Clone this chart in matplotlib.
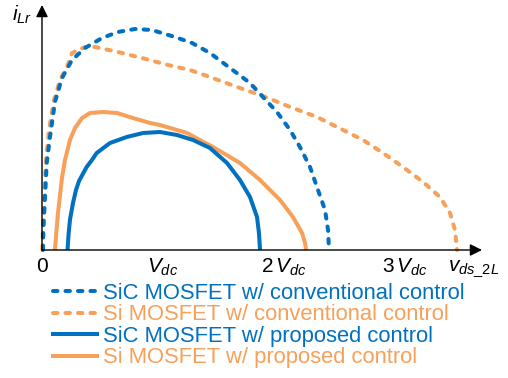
import numpy as np
import matplotlib
matplotlib.use("Agg")
import matplotlib.pyplot as plt
from matplotlib.lines import Line2D

plt.rcParams['font.family'] = ['Liberation Sans', 'DejaVu Sans']
plt.rcParams['mathtext.fontset'] = 'custom'
plt.rcParams['mathtext.rm'] = 'Liberation Sans'
plt.rcParams['mathtext.it'] = 'Liberation Sans:italic'

BLUE = '#0070C0'
ORANGE = '#F7A05A'

# x in units of Vdc, y = i_Lr (arbitrary units)
sic_conv_x = [0.008, 0.011, 0.025, 0.039, 0.066, 0.107, 0.165, 0.248, 0.355, 0.496, 0.628, 0.769,
              0.909, 1.099, 1.240, 1.388, 1.554, 1.719, 1.826, 1.942, 2.050, 2.132, 2.215, 2.281,
              2.339, 2.364, 2.372]
sic_conv_y = [0.0, 0.20, 0.53, 0.87, 1.13, 1.48, 1.72, 1.90, 2.02, 2.12, 2.18, 2.21,
              2.20, 2.13, 2.07, 1.97, 1.82, 1.67, 1.53, 1.38, 1.20, 1.03, 0.83, 0.60,
              0.40, 0.20, 0.0]

si_conv_x = [0.004, 0.008, 0.021, 0.033, 0.058, 0.099, 0.149, 0.207, 0.248, 0.355, 0.438, 0.628,
             0.826, 1.041, 1.223, 1.388, 1.612, 1.826, 2.050, 2.273, 2.488, 2.653, 2.818, 2.983,
             3.149, 3.289, 3.372, 3.413, 3.430]
si_conv_y = [0.0, 0.30, 0.60, 0.90, 1.20, 1.50, 1.70, 1.83, 1.97, 2.03, 2.03, 1.98,
             1.92, 1.85, 1.80, 1.73, 1.63, 1.54, 1.43, 1.33, 1.20, 1.10, 0.97, 0.83,
             0.68, 0.53, 0.37, 0.20, 0.0]

sic_prop_x = [0.211, 0.219, 0.231, 0.256, 0.281, 0.306, 0.369, 0.413, 0.452, 0.562, 0.700,
              0.835, 0.975, 1.116, 1.248, 1.388, 1.529, 1.636, 1.719, 1.777, 1.793, 1.802]
sic_prop_y = [0.0, 0.15, 0.30, 0.47, 0.60, 0.69, 0.83, 0.90, 0.97, 1.07, 1.13,
              1.17, 1.18, 1.15, 1.10, 1.02, 0.87, 0.70, 0.53, 0.33, 0.17, 0.0]

si_prop_x = [0.107, 0.120, 0.132, 0.149, 0.165, 0.190, 0.231, 0.273, 0.331, 0.397, 0.504,
             0.620, 0.752, 0.893, 0.975, 1.198, 1.413, 1.636, 1.802, 1.967, 2.074, 2.149,
             2.174, 2.182]
si_prop_y = [0.0, 0.20, 0.37, 0.55, 0.72, 0.90, 1.10, 1.22, 1.32, 1.37, 1.38,
             1.37, 1.32, 1.27, 1.25, 1.17, 1.03, 0.87, 0.70, 0.50, 0.33, 0.17,
             0.07, 0.0]

tick_pos = [0, 1, 2, 3]
tick_labels = ['0', r'$V_{dc}$', r'$2\,V_{dc}$', r'$3\,V_{dc}$']

labels = ['SiC MOSFET w/ conventional control',
          'Si MOSFET w/ conventional control',
          'SiC MOSFET w/ proposed control',
          'Si MOSFET w/ proposed control']

W, H = 508, 378
fig = plt.figure(figsize=(W / 100, H / 100), dpi=100)
x0, y0, x1, y1 = 42, 250, 482, 5
ax = fig.add_axes([x0 / W, 1 - y0 / H, (x1 - x0) / W, (y0 - y1) / H])
xmax = (x1 - x0) / 121
ymax = (y0 - y1) / 100
ax.set_xlim(0, xmax)
ax.set_ylim(0, ymax)
for s in ax.spines.values():
    s.set_visible(False)

lw = 2.9
dash = (1.1, 2.0)
l1, = ax.plot(sic_conv_x, sic_conv_y, color=BLUE, lw=lw, dashes=dash,
              dash_capstyle='round', dash_joinstyle='round', clip_on=False, zorder=3)
l2, = ax.plot(si_conv_x, si_conv_y, color=ORANGE, lw=lw, dashes=dash,
              dash_capstyle='round', dash_joinstyle='round', clip_on=False, zorder=2)
l3, = ax.plot(sic_prop_x, sic_prop_y, color=BLUE, lw=lw, solid_capstyle='butt',
              solid_joinstyle='round', clip_on=False, zorder=3)
l4, = ax.plot(si_prop_x, si_prop_y, color=ORANGE, lw=lw, solid_capstyle='butt',
              solid_joinstyle='round', clip_on=False, zorder=2)

# axes with arrows
arrow = dict(arrowstyle='-|>,head_length=0.6,head_width=0.3', color='black', lw=1.0,
             mutation_scale=12, shrinkA=0, shrinkB=0)
ax.annotate('', xy=(xmax, 0), xytext=(0, 0), arrowprops=arrow, annotation_clip=False, zorder=5)
ax.annotate('', xy=(0, ymax), xytext=(0, 0), arrowprops=arrow, annotation_clip=False, zorder=5)

ax.set_xticks(tick_pos)
ax.set_xticklabels(tick_labels, fontsize=15)
ax.tick_params(axis='x', length=0, pad=5)
ax.set_yticks([])

ax.text(3.57, -0.19, r'$v_{ds\_2L}$', fontsize=15, ha='center', va='center', clip_on=False)
ax.text(-0.165, 2.35, r'$i_{Lr}$', fontsize=15, ha='center', va='center', clip_on=False)

# legend
handles = [Line2D([], [], color=BLUE, lw=lw, dashes=dash, dash_capstyle='round'),
           Line2D([], [], color=ORANGE, lw=lw, dashes=dash, dash_capstyle='round'),
           Line2D([], [], color=BLUE, lw=lw),
           Line2D([], [], color=ORANGE, lw=lw)]
leg = fig.legend(handles, labels, loc='upper left', bbox_to_anchor=(53 / W, 1 - 283 / H),
                 frameon=False, fontsize=15.8, handlelength=2.0, handletextpad=0.28,
                 labelspacing=0.02, borderpad=0, borderaxespad=0)
for txt, c in zip(leg.get_texts(), [BLUE, ORANGE, BLUE, ORANGE]):
    txt.set_color(c)

fig.savefig('out.png', dpi=100)
